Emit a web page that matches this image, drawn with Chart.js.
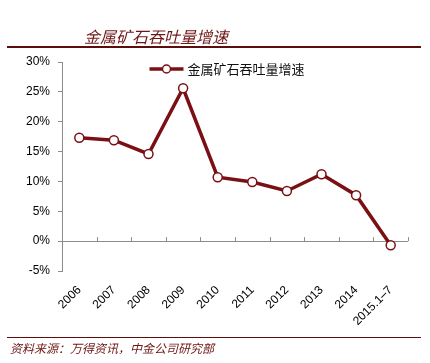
<!DOCTYPE html>
<html>
<head>
<meta charset="utf-8">
<script src="https://cdn.jsdelivr.net/npm/chart.js@4"></script>
<style>
  html, body { margin: 0; padding: 0; background: #fff; }
  #wrap { position: relative; width: 430px; height: 363px; overflow: hidden; }
  #title { position: absolute; left: 84px; top: 26px; font: italic 16px "Noto Sans CJK SC"; color: #6e1616; line-height: 20px; }
  .rule { position: absolute; left: 7px; width: 414px; height: 2px; background: #5c0e0e; }
  #source { position: absolute; left: 10px; top: 340px; font: italic 12px "Noto Sans CJK SC"; color: #6e1616; line-height: 16px; }
  #chart { position: absolute; left: 0; top: 0; }
</style>
</head>
<body>
<div id="wrap">
  <canvas id="chart" width="430" height="363"></canvas>
  <div id="title">金属矿石吞吐量增速</div>
  <div class="rule" style="top:46px"></div>
  <div class="rule" style="top:337px;height:1px"></div>
  <div id="source">资料来源：万得资讯，中金公司研究部</div>
</div>
<script>
// data
const years = ['2006', '2007', '2008', '2009', '2010', '2011', '2012', '2013', '2014', '2015.1–7'];
const growth = [17.3, 16.9, 14.6, 25.6, 10.7, 9.9, 8.4, 11.2, 7.7, -0.7];
const seriesName = '金属矿石吞吐量增速';
const yTicks = [-5, 0, 5, 10, 15, 20, 25, 30];

const lineColor = '#7a1014';
const axisColor = '#8c8c8c';

// legend inside the plot area: short line, open circle, label
const innerLegend = {
  id: 'innerLegend',
  afterDraw(chart) {
    const ctx = chart.ctx;
    const area = chart.chartArea;
    const ds = chart.data.datasets[0];
    ctx.save();
    ctx.font = '13px "Noto Sans CJK SC"';
    const textW = ctx.measureText(ds.label).width;
    const symW = 34, gap = 4;
    const x0 = (area.left + area.right) / 2 - 8 - (symW + gap + textW) / 2;
    const yc = area.top + 7;
    ctx.strokeStyle = ds.borderColor;
    ctx.lineWidth = ds.borderWidth;
    ctx.beginPath(); ctx.moveTo(x0, yc); ctx.lineTo(x0 + symW, yc); ctx.stroke();
    ctx.fillStyle = '#fff';
    ctx.lineWidth = ds.pointBorderWidth;
    ctx.beginPath(); ctx.arc(x0 + symW / 2, yc, 4, 0, Math.PI * 2); ctx.fill(); ctx.stroke();
    ctx.fillStyle = '#111';
    ctx.textBaseline = 'middle';
    ctx.fillText(ds.label, x0 + symW + gap, yc);
    ctx.restore();
  }
};

// small tick marks on the zero line between categories
const zeroTicks = {
  id: 'zeroTicks',
  beforeDatasetsDraw(chart) {
    const x = chart.scales.x, y = chart.scales.y;
    const y0 = y.getPixelForValue(0);
    const step = (x.right - x.left) / years.length;
    const ctx = chart.ctx;
    ctx.save();
    ctx.strokeStyle = axisColor;
    ctx.lineWidth = 1;
    for (let i = 1; i <= years.length; i++) {
      const px = Math.round(x.left + i * step) + 0.5;
      ctx.beginPath();
      ctx.moveTo(px, y0);
      ctx.lineTo(px, y0 - 4);
      ctx.stroke();
    }
    ctx.restore();
  }
};

new Chart(document.getElementById('chart'), {
  type: 'line',
  data: {
    labels: years,
    datasets: [{
      label: seriesName,
      data: growth,
      borderColor: lineColor,
      borderWidth: 3.5,
      tension: 0,
      pointRadius: 4.5,
      pointBackgroundColor: '#fff',
      pointBorderColor: lineColor,
      pointBorderWidth: 1.5
    }]
  },
  options: {
    responsive: false,
    animation: false,
    layout: { padding: { top: 62, right: 22, bottom: 30, left: 0 } },
    scales: {
      x: {
        offset: true,
        grid: { display: false },
        border: { display: false },
        ticks: {
          color: '#000',
          font: { family: 'Liberation Sans', size: 12 },
          minRotation: 45,
          maxRotation: 45,
          padding: 4
        },
        afterFit(scale) { scale.height = 62; }
      },
      y: {
        min: -5,
        max: 30,
        afterBuildTicks(scale) { scale.ticks = yTicks.map(v => ({ value: v })); },
        grid: {
          color: c => (c.tick && c.tick.value === 0 ? axisColor : 'rgba(0,0,0,0)'),
          tickColor: axisColor,
          tickLength: 4
        },
        border: { color: axisColor },
        ticks: {
          color: '#000',
          font: { family: 'Liberation Sans', size: 12 },
          padding: 8,
          callback: v => v + '%'
        },
        afterFit(scale) { scale.width = 62; }
      }
    },
    plugins: {
      legend: { display: false },
      tooltip: { enabled: false }
    }
  },
  plugins: [zeroTicks, innerLegend]
});
</script>
</body>
</html>
